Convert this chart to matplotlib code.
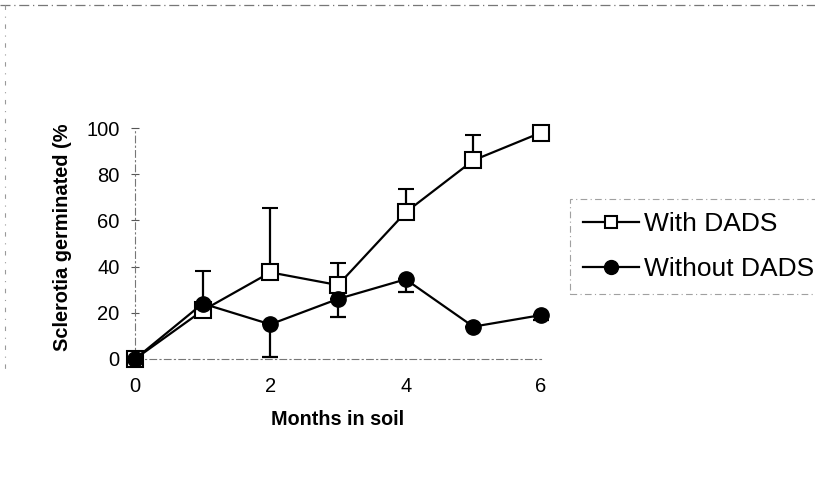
import matplotlib
matplotlib.use("Agg")
import matplotlib.pyplot as plt
from matplotlib.lines import Line2D

plt.rcParams['font.family'] = ['Liberation Sans', 'DejaVu Sans']

months = [0, 1, 2, 3, 4, 5, 6]
with_dads = [0, 21, 37.5, 32, 63.5, 86, 98]
with_dads_err_up = [0, 17, 28, 9.5, 10, 11, 0]
without_dads = [0, 24, 15, 26, 34.5, 14, 19]
without_dads_err_down = [0, 0, 14, 8, 5.5, 0, 2]

x_ticks = [0, 2, 4, 6]
y_ticks = [0, 20, 40, 60, 80, 100]

fig = plt.figure(figsize=(8.15, 4.95), dpi=100)
ax = fig.add_axes([135/815, 1-359/495, (541-135)/815, (359-128)/495])

ax.errorbar(months, with_dads, yerr=[[0]*7, with_dads_err_up], color='black',
            lw=1.6, marker='s', ms=11, mfc='white', mec='black', mew=1.5,
            capsize=6, capthick=1.6, elinewidth=1.6, clip_on=False, zorder=3,
            label='With DADS')
ax.errorbar(months, without_dads, yerr=[without_dads_err_down, [0]*7], color='black',
            lw=1.6, marker='o', ms=11, mfc='black', mec='black',
            capsize=6, capthick=1.6, elinewidth=1.6, clip_on=False, zorder=4,
            label='Without DADS')

ax.set_xlim(0, 6)
ax.set_ylim(0, 100)
ax.set_xticks(x_ticks)
ax.set_yticks(y_ticks)
ax.tick_params(axis='y', direction='inout', length=6, width=0.8, color='#555555',
               labelsize=14.5, pad=8)
ax.tick_params(axis='x', direction='in', length=0, labelsize=14.5, pad=13)

for side in ['top', 'right']:
    ax.spines[side].set_visible(False)
for side in ['left', 'bottom']:
    ax.spines[side].set_linestyle((0, (6, 3, 1, 3)))
    ax.spines[side].set_color('#777777')
    ax.spines[side].set_linewidth(0.8)

ax.set_xlabel('Months in soil', fontsize=14.2, fontweight='bold', labelpad=10)
fig.text(62/815, 1-237/495, 'Sclerotia germinated (%', rotation=90,
         ha='center', va='center', fontsize=14.4, fontweight='bold')

# legend box
handles = [
    Line2D([], [], color='black', lw=1.6, marker='s', ms=9, mfc='white', mec='black', mew=1.5),
    Line2D([], [], color='black', lw=1.6, marker='o', ms=10, mfc='black', mec='black'),
]
leg = fig.legend(handles, ['With DADS', 'Without DADS'], loc='upper left',
                 bbox_to_anchor=(570/815, 1-199/495), fontsize=19,
                 frameon=True, fancybox=False, borderpad=0.5, handlelength=2.1,
                 handletextpad=0.2, labelspacing=0.8, borderaxespad=0)
frame = leg.get_frame()
frame.set_edgecolor('#888888')
frame.set_linestyle((0, (6, 3, 1, 3)))
frame.set_linewidth(0.8)

# outer dashed frame lines
fig.add_artist(Line2D([0, 1], [1-5/495, 1-5/495], transform=fig.transFigure,
                      color='#777777', lw=0.9, ls=(0, (8, 3, 1, 3))))
fig.add_artist(Line2D([5/815, 5/815], [1-5/495, 1-370/495], transform=fig.transFigure,
                      color='#999999', lw=0.8, ls=(0, (4, 6, 1, 6))))

fig.savefig('out.png', dpi=100)
